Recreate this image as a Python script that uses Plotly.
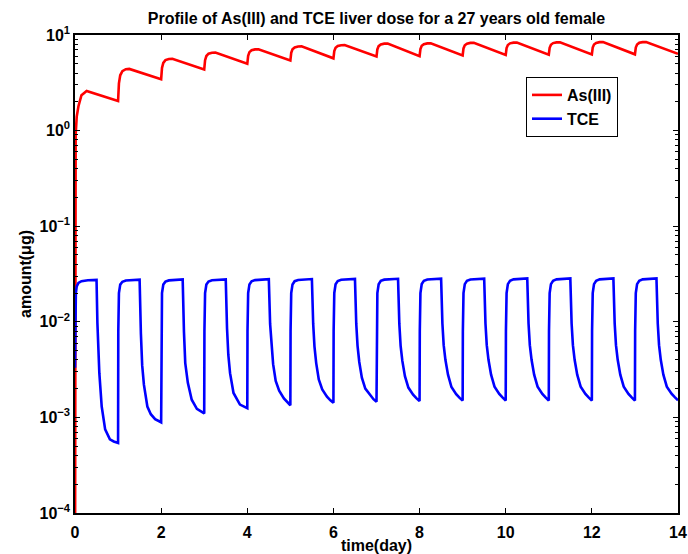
import plotly.graph_objects as go

# ---- data ----
as_t = [0.0, 0.005, 0.015, 0.04, 0.08, 0.15, 0.27, 1.0,
        1.02, 1.05, 1.10, 1.18, 1.26, 2.0,
        2.02, 2.05, 2.10, 2.18, 2.26, 3.0,
        3.02, 3.05, 3.10, 3.18, 3.26, 4.0,
        4.02, 4.05, 4.10, 4.18, 4.26, 5.0,
        5.02, 5.05, 5.10, 5.18, 5.26, 6.0,
        6.02, 6.05, 6.10, 6.18, 6.26, 7.0,
        7.02, 7.05, 7.10, 7.18, 7.26, 8.0,
        8.02, 8.05, 8.10, 8.18, 8.26, 9.0,
        9.02, 9.05, 9.10, 9.18, 9.26, 10.0,
        10.02, 10.05, 10.10, 10.18, 10.26, 11.0,
        11.02, 11.05, 11.10, 11.18, 11.26, 12.0,
        12.02, 12.05, 12.10, 12.18, 12.26, 13.0,
        13.02, 13.05, 13.10, 13.18, 13.26, 14.0]
as_v = [1e-5, 0.3, 0.9, 1.4, 1.8, 2.35, 2.6, 2.04,
        3.12, 3.79, 4.19, 4.39, 4.42, 3.45,
        4.52, 5.11, 5.46, 5.62, 5.65, 4.35,
        5.45, 6.03, 6.37, 6.52, 6.55, 5.0,
        6.06, 6.62, 6.93, 7.07, 7.1, 5.4,
        6.52, 7.10, 7.42, 7.57, 7.6, 5.7,
        6.80, 7.36, 7.68, 7.82, 7.85, 5.95,
        7.07, 7.65, 7.97, 8.12, 8.15, 6.0,
        7.12, 7.70, 8.02, 8.17, 8.2, 6.12,
        7.24, 7.81, 8.12, 8.27, 8.3, 6.18,
        7.29, 7.86, 8.18, 8.32, 8.35, 6.22,
        7.34, 7.91, 8.23, 8.37, 8.4, 6.25,
        7.38, 7.96, 8.27, 8.42, 8.45, 6.28,
        7.39, 7.96, 8.28, 8.42, 8.45, 6.35]

tce_t = [0.0, 0.01, 0.02, 0.04, 0.08, 0.15, 0.3, 0.5,
         0.52, 0.565, 0.62, 0.70, 0.81, 0.9, 1.0,
         1.005, 1.02, 1.05, 1.1, 1.18, 1.3, 1.5,
         1.53, 1.56, 1.60, 1.68, 1.76, 1.86, 2.0,
         2.005, 2.02, 2.05, 2.1, 2.18, 2.3, 2.5,
         2.53, 2.56, 2.62, 2.71, 2.83, 2.92, 3.0,
         3.005, 3.02, 3.05, 3.1, 3.18, 3.3, 3.5,
         3.53, 3.56, 3.60, 3.68, 3.83, 3.92, 4.0,
         4.005, 4.02, 4.05, 4.1, 4.18, 4.3, 4.5,
         4.53, 4.56, 4.60, 4.66, 4.74, 4.85, 4.93, 5.0,
         5.005, 5.02, 5.05, 5.1, 5.18, 5.3, 5.5,
         5.53, 5.56, 5.60, 5.66, 5.74, 5.85, 5.93, 6.0,
         6.005, 6.02, 6.05, 6.1, 6.18, 6.3, 6.5,
         6.53, 6.56, 6.60, 6.66, 6.74, 6.85, 6.93, 7.0,
         7.005, 7.02, 7.05, 7.1, 7.18, 7.3, 7.5,
         7.53, 7.56, 7.60, 7.66, 7.74, 7.85, 7.93, 8.0,
         8.005, 8.02, 8.05, 8.1, 8.18, 8.3, 8.5,
         8.53, 8.56, 8.60, 8.66, 8.74, 8.85, 8.93, 9.0,
         9.005, 9.02, 9.05, 9.1, 9.18, 9.3, 9.5,
         9.53, 9.56, 9.60, 9.66, 9.74, 9.85, 9.93, 10.0,
         10.005, 10.02, 10.05, 10.1, 10.18, 10.3, 10.5,
         10.53, 10.56, 10.60, 10.66, 10.74, 10.85, 10.93, 11.0,
         11.005, 11.02, 11.05, 11.1, 11.18, 11.3, 11.5,
         11.53, 11.56, 11.60, 11.66, 11.74, 11.85, 11.93, 12.0,
         12.005, 12.02, 12.05, 12.1, 12.18, 12.3, 12.5,
         12.53, 12.56, 12.60, 12.66, 12.74, 12.85, 12.93, 13.0,
         13.005, 13.02, 13.05, 13.1, 13.18, 13.3, 13.5,
         13.53, 13.56, 13.60, 13.66, 13.74, 13.85, 13.93, 14.0]
tce_v = [0.0033, 0.014, 0.02, 0.0235, 0.0255, 0.0266, 0.0272, 0.0274,
         0.0097, 0.0029, 0.0013, 0.00075, 0.00059, 0.00056, 0.00054,
         0.008, 0.02, 0.0245, 0.0262, 0.027, 0.0274, 0.0276,
         0.0075, 0.0035, 0.0022, 0.0013, 0.00108, 0.00096, 0.00089,
         0.008, 0.02, 0.0245, 0.0263, 0.0271, 0.0275, 0.0277,
         0.0078, 0.0037, 0.0023, 0.00153, 0.00123, 0.00115, 0.0011,
         0.008, 0.02, 0.0245, 0.0264, 0.0272, 0.0276, 0.0278,
         0.0085, 0.0045, 0.0029, 0.0018, 0.00136, 0.0013, 0.00125,
         0.008, 0.02, 0.0246, 0.0265, 0.0273, 0.0277, 0.0279,
         0.0095, 0.0055, 0.0036, 0.0024, 0.0019, 0.00158, 0.00143, 0.00134,
         0.008, 0.02, 0.0246, 0.0266, 0.0274, 0.0278, 0.0280,
         0.0095, 0.0055, 0.0037, 0.0025, 0.00196, 0.00165, 0.00151, 0.00142,
         0.008, 0.02, 0.0247, 0.0267, 0.0275, 0.0279, 0.0281,
         0.0095, 0.0056, 0.0038, 0.0026, 0.002, 0.00170, 0.00155, 0.00146,
         0.008, 0.02, 0.0247, 0.0268, 0.0276, 0.0280, 0.0282,
         0.0095, 0.0056, 0.0039, 0.0027, 0.00205, 0.00173, 0.00158, 0.00148,
         0.008, 0.02, 0.0248, 0.0268, 0.0277, 0.0281, 0.0283,
         0.0096, 0.0057, 0.004, 0.0028, 0.00208, 0.00175, 0.0016, 0.0015,
         0.008, 0.02, 0.0248, 0.0269, 0.0277, 0.0281, 0.0283,
         0.0096, 0.0057, 0.004, 0.0028, 0.0021, 0.00176, 0.00161, 0.0015,
         0.008, 0.02, 0.0248, 0.0269, 0.0278, 0.0282, 0.0284,
         0.0096, 0.0057, 0.004, 0.0028, 0.0021, 0.00176, 0.00161, 0.0015,
         0.008, 0.02, 0.0248, 0.0269, 0.0278, 0.0282, 0.0284,
         0.0096, 0.0057, 0.004, 0.0028, 0.0021, 0.00176, 0.00161, 0.0015,
         0.008, 0.02, 0.0248, 0.0269, 0.0278, 0.0282, 0.0284,
         0.0096, 0.0057, 0.004, 0.0028, 0.0021, 0.00176, 0.00161, 0.0015,
         0.008, 0.02, 0.0248, 0.0269, 0.0278, 0.0282, 0.0284,
         0.0096, 0.0057, 0.004, 0.0028, 0.0021, 0.00177, 0.00162, 0.00151]

x_ticks = [0, 2, 4, 6, 8, 10, 12, 14]
y_tickvals = [1e-4, 1e-3, 1e-2, 1e-1, 1e0, 1e1]
y_ticktext = ["10<sup>\u22124</sup>", "10<sup>\u22123</sup>", "10<sup>\u22122</sup>",
              "10<sup>\u22121</sup>", "10<sup>0</sup>", "10<sup>1</sup>"]

title_text = "Profile of As(III) and TCE liver dose for a 27 years old female"
x_title = "time(day)"
y_title = "amount(\u03bcg)"

# ---- figure ----
FONT = "Liberation Sans"
minor_vals = []
for e in range(-4, 1):
    for m in range(2, 10):
        minor_vals.append(m * 10 ** e)

fig = go.Figure()
fig.add_trace(go.Scatter(x=as_t, y=as_v, mode="lines", name="As(III)",
                         line=dict(color="#ff0000", width=2.6)))
fig.add_trace(go.Scatter(x=tce_t, y=tce_v, mode="lines", name="TCE",
                         line=dict(color="#0000ff", width=2.6)))

axis_common = dict(showline=True, linecolor="black", linewidth=1.5, mirror="allticks",
                   ticks="inside", tickcolor="black", showgrid=False, zeroline=False,
                   automargin=False,
                   tickfont=dict(family=FONT, size=16, color="black", weight="bold"))

fig.update_layout(
    width=688, height=554,
    margin=dict(l=75, r=10, t=35, b=41),
    paper_bgcolor="white", plot_bgcolor="white",
    title=dict(text=title_text, x=(75 + 678) / 2 / 688, xanchor="center", y=1 - 18 / 554, yanchor="middle",
               font=dict(family=FONT, size=16, color="black", weight="bold")),
    xaxis=dict(range=[0, 14], tickvals=x_ticks, ticklen=5, tickwidth=1,
               ticklabelstandoff=4,
               title=dict(text=x_title, standoff=0,
                          font=dict(family=FONT, size=16, color="black", weight="bold")),
               **axis_common),
    yaxis=dict(type="log", range=[-4, 1], tickvals=y_tickvals, ticktext=y_ticktext,
               ticklen=5, tickwidth=1,
               minor=dict(tickmode="array", tickvals=minor_vals, ticks="inside", ticklen=3,
                          tickcolor="black", showgrid=False),
               title=dict(text=y_title, standoff=4,
                          font=dict(family=FONT, size=16, color="black", weight="bold")),
               **axis_common),
    legend=dict(x=(526 - 75) / 603, y=(513 - 77) / 478, xanchor="left", yanchor="top",
                bordercolor="black", borderwidth=1, bgcolor="white",
                font=dict(family=FONT, size=16, color="black", weight="bold"),
                tracegroupgap=0, itemwidth=30),
    showlegend=True,
)

fig.write_html("out.html")
